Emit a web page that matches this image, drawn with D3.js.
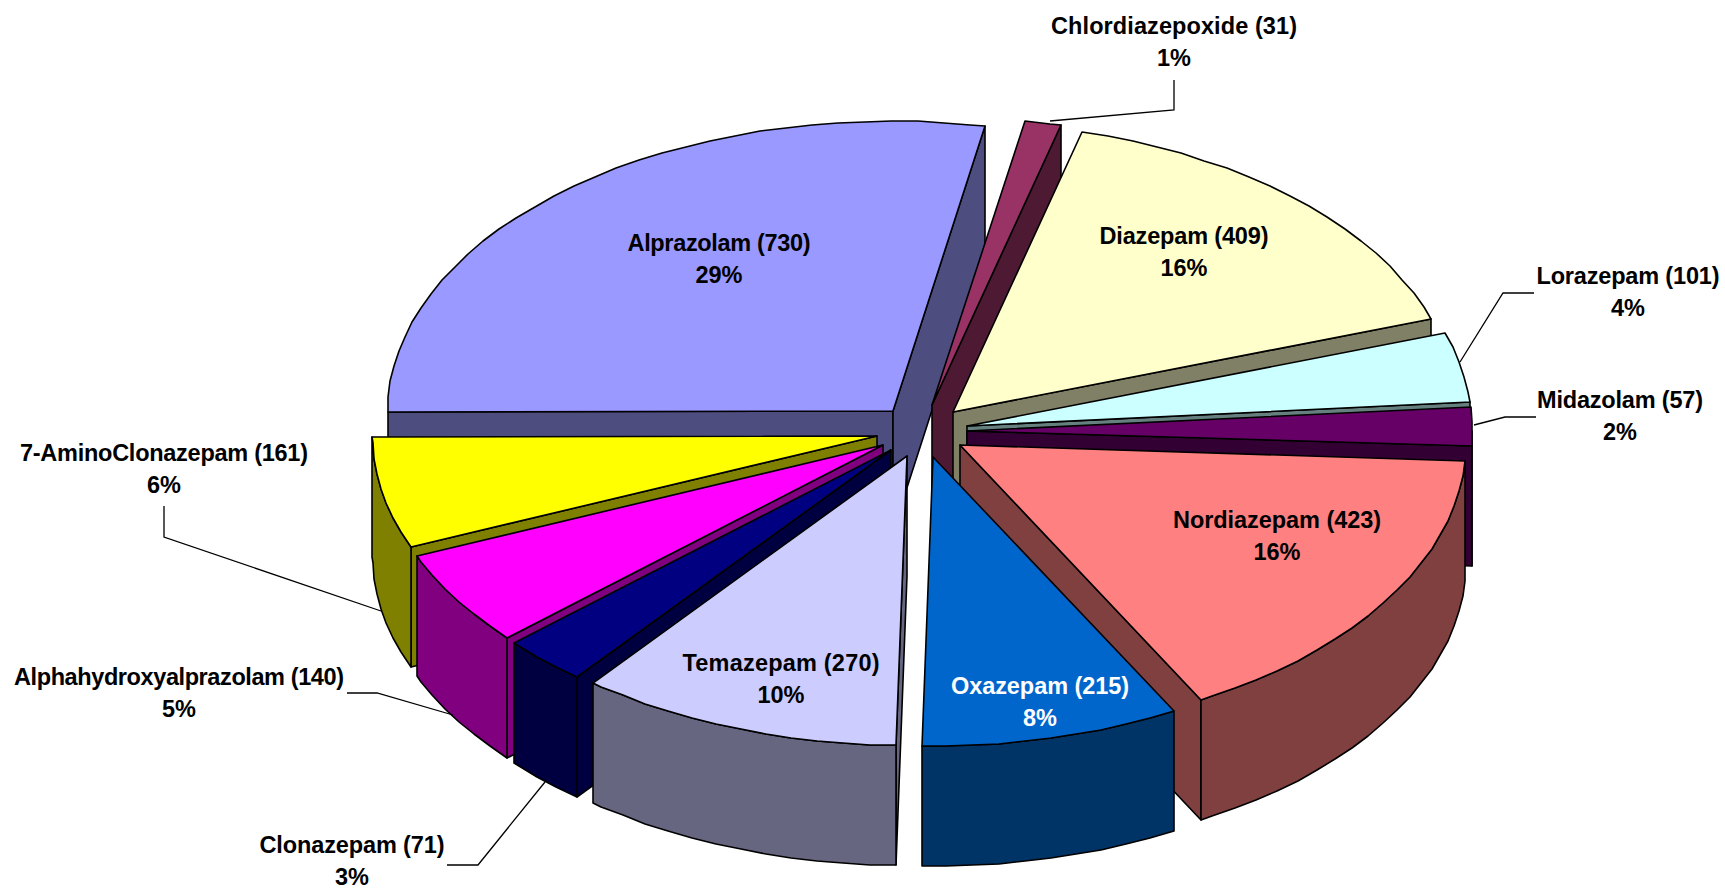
<!DOCTYPE html>
<html>
<head>
<meta charset="utf-8">
<script src="https://cdn.jsdelivr.net/npm/d3@7"></script>
<style>
  body { margin: 0; background: #fff; }
  text { font-family: "Liberation Sans", Arial, sans-serif; font-weight: bold; font-size: 23.5px; text-anchor: middle; }
</style>
</head>
<body>
<script>
//DATA
const categories = ["Alprazolam", "Chlordiazepoxide", "Diazepam", "Lorazepam", "Midazolam", "Nordiazepam",
                    "Oxazepam", "Temazepam", "Clonazepam", "Alphahydroxyalprazolam", "7-AminoClonazepam"]
const counts = [730, 31, 409, 101, 57, 423, 215, 270, 71, 140, 161]
const percents = [29, 1, 16, 4, 2, 16, 8, 10, 3, 5, 6]

//STYLES
const topColors = ["#9999FF", "#993366", "#FFFFCC", "#CCFFFF", "#660066", "#FF8080",
                   "#0066CC", "#CCCCFF", "#000080", "#FF00FF", "#FFFF00"]
const sideColors = ["#4D4D80", "#4D1933", "#808066", "#668080", "#330033", "#804040",
                    "#003366", "#666680", "#000040", "#800080", "#808000"]
const textColors = categories.map(d => d === "Oxazepam" ? "#fff" : "#000")
//back to front
const drawOrder = [0, 1, 2, 3, 4, 5, 6, 10, 9, 8, 7]

//LABEL LAYOUT (centre x, first line y, first line width)
const labelX = [719, 1174, 1184, 1628, 1620, 1277, 1040, 781, 352, 179, 164]
const labelY = [243, 26, 236, 276, 400, 520, 686, 663, 845, 677, 453]
const labelW = [183, 246, 169, 183, 166, 208, 178, 197, 185, 330, 288]
const lineGap = 32
//leader lines for the labels outside the pie
const leaders = [
    [[1174, 80], [1174, 110], [1050, 121]],
    [[1534, 293], [1503, 293], [1460, 362]],
    [[1536, 417], [1505, 417], [1474, 425]],
    [[164, 506], [164, 537], [381, 611]],
    [[347, 693], [377, 693], [453, 715]],
    [[447, 865], [478, 865], [545, 782]]
]

//USEFUL VARIABLES
const svgwidth = 1725
const svgheight = 891
const cx = 922
const cy = 431
const rx = 505
const ry = 289.5
const depth = 120
const explodeX = 45.5
const explodeY = 26.5
const rotation = -0.2 * Math.PI / 180
const step = Math.PI / 60

const svg = d3.select("body").append("svg")
    .attr("width", svgwidth)
    .attr("height", svgheight)

const pie = d3.pie().sort(null).startAngle(-Math.PI / 2 + rotation).endAngle(Math.PI * 1.5 + rotation)
const arcs = pie(counts)

//rim sampled in steps, rounded to whole pixels like the original rendering
const angleSteps = (a0, a1) => {
    const out = d3.range(a0, a1, step)
    out.push(a1)
    return out
}
const line = d3.line().x(d => Math.round(d[0])).y(d => Math.round(d[1]))

const drawSlice = (i) => {
    const a0 = arcs[i].startAngle
    const a1 = arcs[i].endAngle
    const mid = (a0 + a1) / 2
    const ax = cx + explodeX * Math.sin(mid)
    const ay = cy - explodeY * Math.cos(mid)
    const rim = a => [ax + rx * Math.sin(a), ay - ry * Math.cos(a)]
    const down = p => [p[0], p[1] + depth]
    const g = svg.append("g").attr("class", "slice")
    const face = (pts, fill) => g.append("path")
        .attr("d", line(pts) + "Z")
        .attr("fill", fill)
        .attr("stroke", "#000")
        .attr("stroke-width", 1.6)
        .attr("stroke-linejoin", "round")

    //radial walls that face the viewer
    const apex = [ax, ay]
    if (Math.sin(a0) < 0) face([apex, rim(a0), down(rim(a0)), down(apex)], sideColors[i])
    if (Math.sin(a1) > 0) face([apex, rim(a1), down(rim(a1)), down(apex)], sideColors[i])

    //outer wall, front half only (PI/2 to 3PI/2)
    const from = Math.max(a0, Math.PI / 2)
    const to = Math.min(a1, Math.PI * 1.5)
    if (to > from) {
        const top = angleSteps(from, to).map(rim)
        face(top.concat(top.map(down).reverse()), sideColors[i])
    }

    //top
    face([apex].concat(angleSteps(a0, a1).map(rim)), topColors[i])
}
drawOrder.forEach(drawSlice)

//LEADERS
svg.selectAll(".leader").data(leaders).enter().append("path").classed("leader", true)
    .attr("d", d => d3.line()(d))
    .attr("fill", "none")
    .attr("stroke", "#000")
    .attr("stroke-width", 1.3)

//LABELS
const labels = svg.selectAll(".label").data(categories).enter().append("text").classed("label", true)
    .attr("fill", (d, i) => textColors[i])
labels.append("tspan")
    .attr("x", (d, i) => labelX[i])
    .attr("y", (d, i) => labelY[i] + 8)
    .attr("textLength", (d, i) => labelW[i])
    .text((d, i) => `${d} (${counts[i]})`)
labels.append("tspan")
    .attr("x", (d, i) => labelX[i])
    .attr("y", (d, i) => labelY[i] + 8 + lineGap)
    .text((d, i) => `${percents[i]}%`)
</script>
</body>
</html>
